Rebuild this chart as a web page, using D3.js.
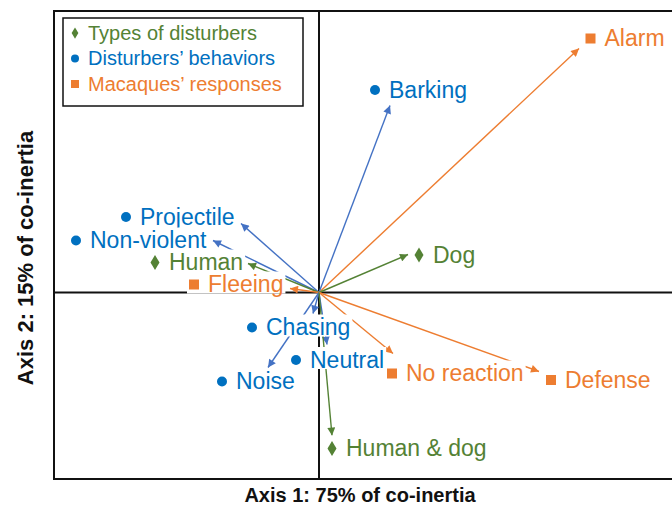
<!DOCTYPE html>
<html>
<head>
<meta charset="utf-8">
<script src="https://cdn.jsdelivr.net/npm/d3@7"></script>
<style>
  body { margin: 0; background: #fff; }
  text { font-family: "Liberation Sans", Arial, sans-serif; }
</style>
</head>
<body>
<div id="chart"></div>
<script>
// co-inertia scores (axis 1, axis 2)
var names = ["Alarm", "Barking", "Projectile", "Non-violent", "Human", "Fleeing", "Dog",
             "Chasing", "Neutral", "Noise", "No reaction", "Defense", "Human & dog"];
var groups = ["response", "behavior", "behavior", "behavior", "type", "response", "type",
              "behavior", "behavior", "behavior", "response", "response", "type"];
var arrowX = [2.60, 0.71, -0.78, -1.06, -0.71, -0.29, 0.89, -0.06, 0.08, -0.51, 0.74, 2.20, 0.13];
var arrowY = [2.44, 1.87, 0.69, 0.52, 0.29, 0.04, 0.38, -0.21, -0.52, -0.75, -0.61, -0.79, -1.43];
var labelX = [2.715, 0.56, -1.93, -2.43, -1.64, -1.25, 1.00, -0.67, -0.23, -0.97, 0.73, 2.32, 0.13];
var labelY = [2.54, 2.025, 0.755, 0.52, 0.30, 0.08, 0.375, -0.35, -0.675, -0.89, -0.81, -0.875, -1.56];

var legendKeys = ["type", "behavior", "response"];
var legendNames = ["Types of disturbers", "Disturbers\u2019 behaviors", "Macaques\u2019 responses"];

var xTitle = "Axis 1: 75% of co-inertia";
var yTitle = "Axis 2: 15% of co-inertia";

var textColor = {type: "#548235", behavior: "#0070C0", response: "#ED7D31"};
var lineColor = {type: "#548235", behavior: "#4472C4", response: "#ED7D31"};

var width = 672, height = 507;
var svg = d3.select("#chart").append("svg")
  .attr("width", width)
  .attr("height", height);

var x = d3.scaleLinear().domain([-2.65, 3.55]).range([54, 674]);
var y = d3.scaleLinear().domain([-1.865, 2.815]).range([479, 11]);

// arrow heads
var defs = svg.append("defs");
legendKeys.forEach(function(k) {
  defs.append("marker")
    .attr("id", "head-" + k)
    .attr("viewBox", "0 0 10 10")
    .attr("refX", 10)
    .attr("refY", 5)
    .attr("markerUnits", "userSpaceOnUse")
    .attr("markerWidth", 9)
    .attr("markerHeight", 8)
    .attr("orient", "auto")
    .append("path")
      .attr("d", "M0,0L10,5L0,10Z")
      .attr("fill", lineColor[k]);
});

// frame
svg.append("rect")
  .attr("x", x.range()[0])
  .attr("y", y.range()[1])
  .attr("width", x.range()[1] - x.range()[0])
  .attr("height", y.range()[0] - y.range()[1])
  .attr("fill", "none")
  .attr("stroke", "#111")
  .attr("stroke-width", 2);

// zero axes
svg.append("line")
  .attr("x1", x(0)).attr("x2", x(0))
  .attr("y1", y.range()[1]).attr("y2", y.range()[0])
  .attr("stroke", "#111").attr("stroke-width", 2);
svg.append("line")
  .attr("x1", x.range()[0]).attr("x2", x.range()[1])
  .attr("y1", y(0)).attr("y2", y(0))
  .attr("stroke", "#111").attr("stroke-width", 2);

var idx = d3.range(names.length);

// arrows from origin
svg.selectAll("line.arrow")
  .data(idx)
  .enter()
  .append("line")
    .attr("class", "arrow")
    .attr("x1", x(0))
    .attr("y1", y(0))
    .attr("x2", function(i) { return x(arrowX[i]); })
    .attr("y2", function(i) { return y(arrowY[i]); })
    .attr("stroke", function(i) { return lineColor[groups[i]]; })
    .attr("stroke-width", 1.4)
    .attr("marker-end", function(i) { return "url(#head-" + groups[i] + ")"; });

function drawSymbol(g, key, cx, cy, s) {
  if (key == "type") {
    g.append("path")
      .attr("d", "M" + cx + "," + (cy - 7.5 * s) + "L" + (cx + 4.5 * s) + "," + cy +
                 "L" + cx + "," + (cy + 7.5 * s) + "L" + (cx - 4.5 * s) + "," + cy + "Z")
      .attr("fill", textColor[key]);
  }
  else if (key == "behavior") {
    g.append("circle")
      .attr("cx", cx).attr("cy", cy).attr("r", 5 * s)
      .attr("fill", textColor[key]);
  }
  else {
    g.append("rect")
      .attr("x", cx - 5 * s).attr("y", cy - 5 * s)
      .attr("width", 10 * s).attr("height", 10 * s)
      .attr("fill", textColor[key]);
  }
}

// labels with white boxes
idx.forEach(function(i) {
  var cx = x(labelX[i]), cy = y(labelY[i]);
  var g = svg.append("g").attr("class", "label");
  var bg = g.append("rect").attr("fill", "#fff");
  drawSymbol(g, groups[i], cx, cy, 1);
  var t = g.append("text")
    .attr("x", cx + 14)
    .attr("y", cy + 7.5)
    .style("font-size", "23px")
    .attr("fill", textColor[groups[i]])
    .text(names[i]);
  var w = t.node().getComputedTextLength();
  bg.attr("x", cx - 7)
    .attr("y", cy + 7.5 - 20.5)
    .attr("width", w + 23)
    .attr("height", 22);
});

// legend
var legend = svg.append("g").attr("class", "legend");
legend.append("rect")
  .attr("x", 63).attr("y", 18)
  .attr("width", 240).attr("height", 88)
  .attr("fill", "#fff")
  .attr("stroke", "#111")
  .attr("stroke-width", 1.5);
legendKeys.forEach(function(k, i) {
  var ly = 33 + i * 25.5;
  drawSymbol(legend, k, 75, ly, k == "type" ? 0.75 : 0.8);
  legend.append("text")
    .attr("x", 88)
    .attr("y", ly + 6.5)
    .style("font-size", "20px")
    .attr("fill", textColor[k])
    .text(legendNames[i]);
});

// axis titles
svg.append("text")
  .attr("x", 360)
  .attr("y", 502)
  .attr("text-anchor", "middle")
  .style("font-size", "20px")
  .style("font-weight", "bold")
  .attr("fill", "#111")
  .text(xTitle);

svg.append("text")
  .attr("transform", "translate(33,258)rotate(-90)")
  .attr("text-anchor", "middle")
  .style("font-size", "22px")
  .style("font-weight", "bold")
  .attr("fill", "#111")
  .text(yTitle);
</script>
</body>
</html>
